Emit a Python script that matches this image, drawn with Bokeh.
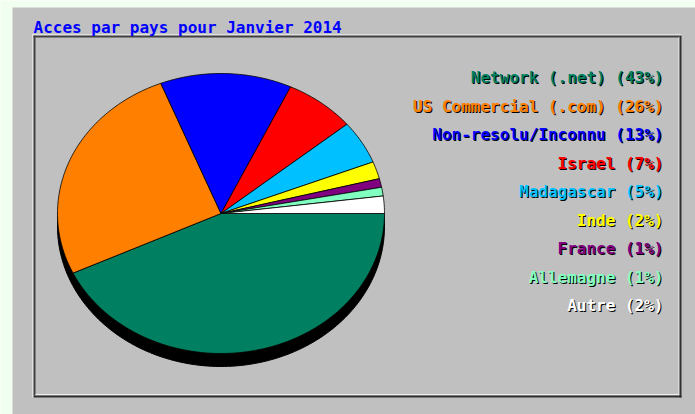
import numpy as np
from bokeh.plotting import figure
from bokeh.models import Range1d, ColumnDataSource
from bokeh.embed import file_html
from bokeh.resources import INLINE
from bokeh.core.properties import value

# ---- data ----
title = "Acces par pays pour Janvier 2014"
countries = ["Network (.net)", "US Commercial (.com)", "Non-resolu/Inconnu", "Israel",
             "Madagascar", "Inde", "France", "Allemagne", "Autre"]
percents = [43, 26, 13, 7, 5, 2, 1, 1, 2]
colors = ["#008060", "#FF8000", "#0000FF", "#FF0000", "#00C0FF",
          "#FFFF00", "#800080", "#80FFC0", "#FFFFFF"]

# ---- layout constants (pixels) ----
W, H = 695, 414
CX, CY, RX, RY = 220.5, 213.0, 163.5, 140.0
SHADOW_DX, SHADOW_DY = 0, 13
LEG_X, LEG_Y0, LEG_DY = 663, 77, 28.5
FONT = value("DejaVu Sans Mono")

p = figure(width=W, height=H, x_range=Range1d(0, W), y_range=Range1d(H, 0),
           toolbar_location=None, output_backend="svg", min_border=0,
           x_axis_type=None, y_axis_type=None)
p.grid.visible = False
p.outline_line_color = None
p.background_fill_color = "#F0FFF0"
p.border_fill_color = "#F0FFF0"

# gray panel
p.quad(left=[12], right=[W], top=[7], bottom=[H], fill_color="#C0C0C0", line_color=None)

# inner box grooves
p.quad(left=[32, 32], right=[681, 33], top=[34, 34], bottom=[35, 397],
       fill_color="#FFFFFF", line_color=None)
p.quad(left=[33, 33], right=[679, 35], top=[35, 35], bottom=[37, 395],
       fill_color="#404040", line_color=None)
p.quad(left=[678, 35], right=[679, 679], top=[37, 393.5], bottom=[394.5, 394.5],
       fill_color="#F0F0F0", line_color=None)
p.quad(left=[679, 33], right=[681, 681], top=[35, 395], bottom=[397, 397],
       fill_color="#303030", line_color=None)

# title
p.text(x=[33], y=[27], text=[title], text_font=FONT, text_font_style="bold",
       text_font_size="16px", text_color="#0000FF", text_baseline="alphabetic")

# pie shadow
t = np.linspace(0, 2 * np.pi, 240)
p.patch(CX + SHADOW_DX + RX * np.cos(t), CY + SHADOW_DY + RY * np.sin(t),
        fill_color="#000000", line_color="#000000")

# pie slices (clockwise on screen from east)
fr = np.array(percents, dtype=float) / sum(percents)
ends = np.cumsum(fr) * 2 * np.pi
starts = ends - fr * 2 * np.pi
xs, ys = [], []
for a0, a1 in zip(starts, ends):
    n = max(4, int((a1 - a0) / (2 * np.pi) * 360))
    a = np.linspace(a0, a1, n)
    xs.append([CX] + list(CX + RX * np.cos(a)))
    ys.append([CY] + list(CY + RY * np.sin(a)))
p.patches(xs=xs, ys=ys, fill_color=colors, line_color="#000000", line_width=0.8)

# legend
labels = [f"{c} ({v}%)" for c, v in zip(countries, percents)]
ly = [LEG_Y0 + i * LEG_DY for i in range(len(labels))]
src = ColumnDataSource(dict(x=[LEG_X] * len(labels), y=ly, text=labels, color=colors))
src_sh = ColumnDataSource(dict(x=[LEG_X + 1] * len(labels), y=[v + 1 for v in ly], text=labels))
p.text(x="x", y="y", text="text", source=src_sh, text_font=FONT, text_font_style="bold",
       text_font_size="16px", text_color="#000000", text_align="right", text_baseline="middle")
p.text(x="x", y="y", text="text", source=src, text_font=FONT, text_font_style="bold",
       text_font_size="16px", text_color="color", text_align="right", text_baseline="middle")

open("out.html", "w").write(file_html(p, INLINE))
